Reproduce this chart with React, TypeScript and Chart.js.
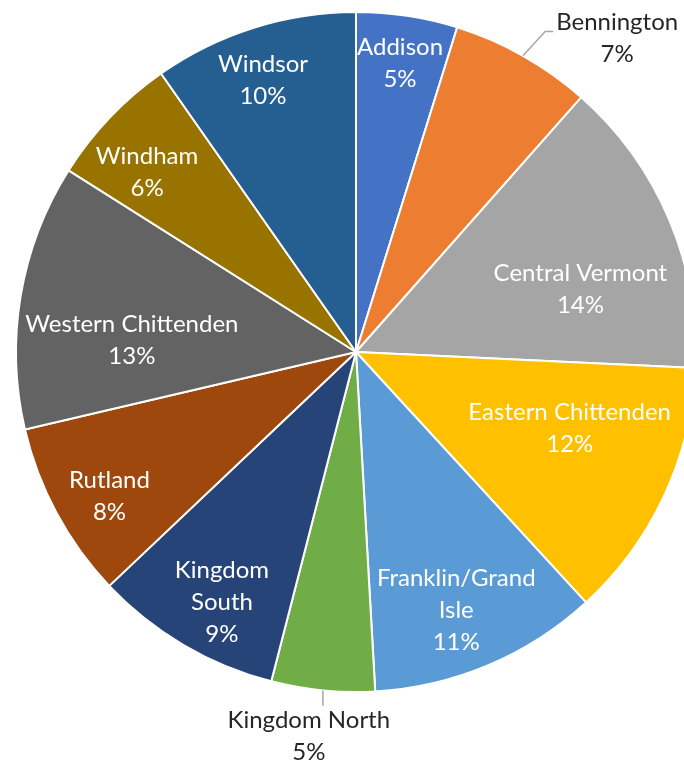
import React, { useEffect, useRef } from "react";
import { Chart, registerables } from "chart.js";

Chart.register(...registerables);

const categories = [
  "Addison",
  "Bennington",
  "Central Vermont",
  "Eastern Chittenden",
  "Franklin/Grand Isle",
  "Kingdom North",
  "Kingdom South",
  "Rutland",
  "Western Chittenden",
  "Windham",
  "Windsor",
];

const values = [4.8, 6.7, 14.2, 12.4, 10.9, 4.9, 8.9, 8.4, 12.6, 6.3, 9.7];

const colors = [
  "#4472C4",
  "#ED7D31",
  "#A5A5A5",
  "#FFC000",
  "#5B9BD5",
  "#70AD47",
  "#264478",
  "#9E480E",
  "#636363",
  "#997300",
  "#255E91",
];

// how each category name wraps in its label
const labelLines = [
  ["Addison"],
  ["Bennington"],
  ["Central Vermont"],
  ["Eastern Chittenden"],
  ["Franklin/Grand", "Isle"],
  ["Kingdom North"],
  ["Kingdom", "South"],
  ["Rutland"],
  ["Western Chittenden"],
  ["Windham"],
  ["Windsor"],
];

// label placement: radial fraction of radius, angular shift (deg), outside?
const placement = [
  { r: 0.86, da: 0, out: false },
  { r: 1.2, da: 10.4, out: true },
  { r: 0.685, da: 7.4, out: false },
  { r: 0.667, da: -5.5, out: false },
  { r: 0.815, da: 1.7, out: false },
  { r: 1.14, da: 1.4, out: true },
  { r: 0.835, da: -2.3, out: false },
  { r: 0.84, da: -2, out: false },
  { r: 0.66, da: -6.6, out: false },
  { r: 0.81, da: -3, out: false },
  { r: 0.845, da: -1.4, out: false },
];

const FONT = '24px Lato, "Liberation Sans", sans-serif';
const LINE_H = 32;

const labelPlugin = {
  id: "pieLabels",
  afterDraw(chart: any) {
    const ctx = chart.ctx;
    const meta = chart.getDatasetMeta(0);
    const total = values.reduce((a, b) => a + b, 0);
    ctx.save();
    ctx.font = FONT;
    ctx.textAlign = "center";
    ctx.textBaseline = "middle";
    meta.data.forEach((arc: any, i: number) => {
      const p = arc.getProps(["x", "y", "startAngle", "endAngle", "outerRadius"], true);
      const mid = (p.startAngle + p.endAngle) / 2;
      const ang = mid + (placement[i].da * Math.PI) / 180;
      const cx = p.x + Math.cos(ang) * placement[i].r * p.outerRadius;
      const cy = p.y + Math.sin(ang) * placement[i].r * p.outerRadius;
      const lines = [...labelLines[i], Math.round((values[i] / total) * 100) + "%"];
      const top = cy - ((lines.length - 1) * LINE_H) / 2;
      const out = placement[i].out;
      if (out) {
        const ex = p.x + Math.cos(mid) * p.outerRadius;
        const ey = p.y + Math.sin(mid) * p.outerRadius;
        ctx.strokeStyle = "#A6A6A6";
        ctx.lineWidth = 1.5;
        ctx.beginPath();
        ctx.moveTo(ex, ey);
        const w = Math.max(...lines.map((l) => ctx.measureText(l).width));
        if (Math.abs(Math.sin(mid)) > 0.9) {
          // bottom label: vertical leader
          ctx.lineTo(ex, top - 15);
        } else {
          const lx = cx - w / 2 - 3;
          const ly = top + 9;
          ctx.lineTo(lx - 8, ly);
          ctx.lineTo(lx, ly);
        }
        ctx.stroke();
      }
      ctx.fillStyle = out ? "#262626" : "#FFFFFF";
      lines.forEach((l, k) => {
        ctx.fillText(l, cx, top + k * LINE_H);
      });
    });
    ctx.restore();
  },
};

export default function App() {
  const ref = useRef<HTMLCanvasElement>(null);
  useEffect(() => {
    if (!ref.current) return;
    const chart = new Chart(ref.current, {
      type: "pie",
      data: {
        labels: categories,
        datasets: [
          {
            data: values,
            backgroundColor: colors,
            borderColor: "#FFFFFF",
            borderWidth: 2,
            hoverOffset: 0,
          },
        ],
      },
      options: {
        responsive: false,
        animation: false,
        layout: { padding: { left: 15, top: 11, right: 23, bottom: 74 } },
        plugins: {
          legend: { display: false },
          tooltip: { enabled: false },
        },
      },
      plugins: [labelPlugin],
    });
    return () => chart.destroy();
  }, []);
  return (
    <div
      style={{
        position: "fixed",
        left: 0,
        top: 0,
        width: 684,
        height: 767,
        overflow: "hidden",
        background: "#FFFFFF",
      }}
    >
      <canvas ref={ref} width={720} height={767} style={{ width: 720, height: 767, display: "block" }} />
    </div>
  );
}
